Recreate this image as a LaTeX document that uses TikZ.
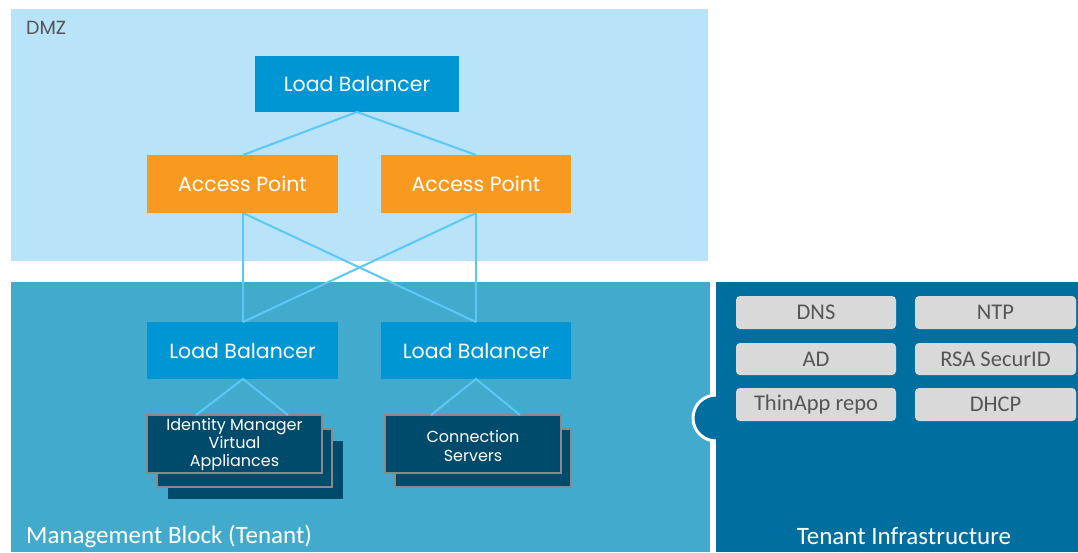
\documentclass[tikz,border=0pt]{standalone}
\usepackage{fontspec}
\setmainfont{Poppins}
\newfontfamily\carl{Carlito}
\definecolor{dmzbg}{HTML}{B8E3F8}
\definecolor{mgmtbg}{HTML}{42AACD}
\definecolor{tenbg}{HTML}{006FA0}
\definecolor{lbblue}{HTML}{0095D3}
\definecolor{aporange}{HTML}{F89A1F}
\definecolor{navy}{HTML}{004B6B}
\definecolor{edgegray}{HTML}{8A8A8A}
\definecolor{link}{HTML}{5BC8F5}
\definecolor{svcgray}{HTML}{D9D9D9}
\definecolor{svctext}{HTML}{555555}
\definecolor{dmztext}{HTML}{555555}
\tikzset{
  boxlabel/.style={text=white, inner sep=0pt, font=\fontsize{20.5}{24}\selectfont},
  vmlabel/.style={text=white, align=center, inner sep=0pt},
  stackedge/.style={fill=navy, draw=edgegray, line width=1.5pt},
  linkline/.style={draw=link, line width=2pt},
  svclabel/.style={text=svctext, font=\carl\fontsize{22.5}{26}\selectfont},
  zonelabel/.style={text=white, inner sep=0pt, font=\carl\fontsize{25}{28}\selectfont},
}
\begin{document}
\begin{tikzpicture}[x=1pt,y=-1pt]
\useasboundingbox (0,0) rectangle (1078,552);
\fill[white] (0,0) rectangle (1078,552);

% zones
\fill[dmzbg] (11,9) rectangle (708,261);
\fill[mgmtbg] (11,282) rectangle (710,552);
\draw[white, line width=3pt, fill=tenbg] (716,418) circle (23);
\fill[tenbg] (716,282) rectangle (1078,552);

\node[anchor=west, inner sep=0pt, text=dmztext, font=\fontsize{19}{22}\selectfont] (dmzlabel) at (26,28) {DMZ};
\node[anchor=west, zonelabel] (mgmtlabel) at (26,536) {Management Block (Tenant)};
\node[zonelabel] (tenlabel) at (904,536) {Tenant Infrastructure};

% DMZ tier
\fill[lbblue] (255,56) rectangle (459,112);
\node[boxlabel] (lbtop) at (357,84) {Load Balancer};
\coordinate (lbtopS) at (357,112);

\fill[aporange] (147,155) rectangle (338,213);
\node[boxlabel] (apl) at (242.5,184) {Access Point};
\fill[aporange] (381,155) rectangle (571,213);
\node[boxlabel] (apr) at (476,184) {Access Point};
\coordinate (aplN) at (243,155);
\coordinate (aprN) at (476,155);
\coordinate (aplS) at (243,213);
\coordinate (aprS) at (476,213);

% management tier balancers
\fill[lbblue] (147,322) rectangle (338,379);
\node[boxlabel] (lbl) at (242.5,351) {Load Balancer};
\fill[lbblue] (381,322) rectangle (571,379);
\node[boxlabel] (lbr) at (476,351) {Load Balancer};
\coordinate (lblN) at (243,322);
\coordinate (lbrN) at (476,322);
\coordinate (lblS) at (243,379);
\coordinate (lbrS) at (476,379);

% connectors
\draw[linkline] (aplN) -- (lbtopS) -- (aprN);
\draw[linkline] (aplS) -- (lblN);
\draw[linkline] (aplS) -- (lbrN);
\draw[linkline] (aprS) -- (lbrN);
\draw[linkline] (aprS) -- (lblN);

% appliance stacks
\fill[navy] (168,441) rectangle (343,499);
\path[stackedge] (157,429) rectangle (332,487);
\path[stackedge] (147,415) rectangle (322,473);
\node[vmlabel, font=\fontsize{16}{18}\selectfont] (idm) at (234.5,444) {Identity Manager\\Virtual\\Appliances};

\path[stackedge] (395,429) rectangle (571,487);
\path[stackedge] (385,415) rectangle (561,473);
\node[vmlabel, font=\fontsize{16}{19}\selectfont] (cs) at (473,445.5) {Connection\\Servers};

\coordinate (idmNl) at (196,415);
\coordinate (idmNr) at (288,415);
\coordinate (csNl) at (431,415);
\coordinate (csNr) at (520,415);
\draw[linkline] (idmNl) -- (lblS) -- (idmNr);
\draw[linkline] (csNl) -- (lbrS) -- (csNr);

% tenant services
\foreach \nm/\txt/\xa/\xb/\ya/\yb in {
  dns/DNS/736/896/296/329, ntp/NTP/915/1076/296/329,
  ad/AD/736/896/343/375, rsa/RSA SecurID/915/1076/343/375,
  thin/ThinApp repo/736/896/388/421, dhcp/DHCP/915/1076/388/421}{
  \fill[svcgray, rounded corners=4pt] (\xa,\ya) rectangle (\xb,\yb);
  \node[svclabel] (\nm) at ({(\xa+\xb)/2},{(\ya+\yb)/2}) {\txt};
}
\end{tikzpicture}
\end{document}
